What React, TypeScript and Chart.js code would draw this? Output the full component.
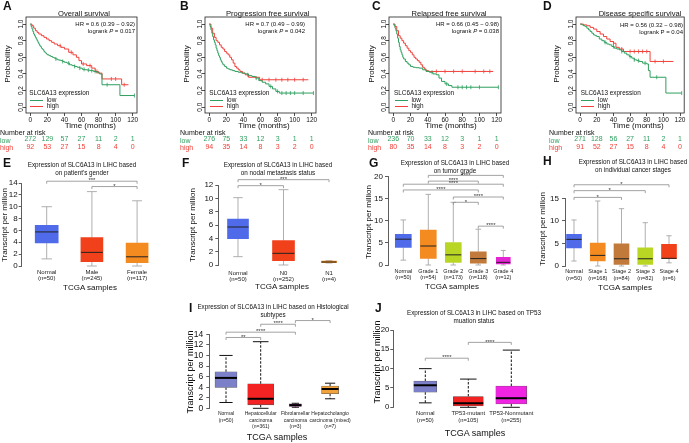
import React, { useEffect, useRef } from "react";
import { Chart, registerables } from "chart.js";

Chart.register(...registerables);

const W = 689;
const H = 443;
const FONT = '"Liberation Sans", Arial, Helvetica, sans-serif';
Chart.defaults.font.family = FONT;
Chart.defaults.color = "#222";

const KM_GREEN = "#2E9F5F";
const KM_RED = "#F2403A";

// ---------------- Kaplan-Meier data ----------------
const kmTimeTicks = [0, 20, 40, 60, 80, 100, 120];
const kmProbTicks = [0, 0.2, 0.4, 0.6, 0.8, 1.0];

// A: Overall survival
const osLowT = [0, 1, 2, 3, 4, 5, 6, 7, 8, 9, 10, 11, 12, 13, 14, 15, 16, 17, 18, 19, 20, 22, 24, 26, 28, 30, 32, 34, 36, 38, 40, 43, 46, 49, 52, 55, 58, 61, 64, 67, 70, 74, 78, 81, 84, 105, 122];
const osLowS = [1, 0.97, 0.94, 0.91, 0.88, 0.86, 0.84, 0.82, 0.8, 0.78, 0.76, 0.74, 0.73, 0.71, 0.7, 0.69, 0.67, 0.66, 0.65, 0.64, 0.63, 0.62, 0.61, 0.6, 0.59, 0.58, 0.57, 0.565, 0.56, 0.55, 0.54, 0.53, 0.51, 0.5, 0.49, 0.48, 0.47, 0.455, 0.45, 0.445, 0.44, 0.43, 0.415, 0.4, 0.27, 0.14, 0.14];
const osHighT = [0, 2, 4, 6, 8, 10, 13, 16, 19, 22, 25, 28, 32, 36, 40, 45, 50, 54, 57, 60, 66, 72, 76, 80, 84, 107, 115];
const osHighS = [1, 0.98, 0.95, 0.92, 0.9, 0.88, 0.86, 0.84, 0.82, 0.8, 0.78, 0.76, 0.74, 0.72, 0.7, 0.66, 0.63, 0.6, 0.56, 0.52, 0.5, 0.47, 0.43, 0.41, 0.34, 0.27, 0.27];
const osLowCens = [30, 38, 45, 52, 58, 63, 68, 72, 76, 90, 122];
const osHighCens = [35, 48, 62, 70, 78, 95, 100, 110];
const osRiskLow = [272, 129, 57, 27, 11, 2, 1];
const osRiskHigh = [92, 53, 27, 15, 8, 4, 0];

// B: Progression free survival
const pfsLowT = [0, 1, 2, 3, 4, 5, 6, 7, 8, 9, 10, 11, 12, 13, 14, 15, 16, 18, 20, 22, 24, 27, 30, 34, 38, 42, 46, 50, 54, 58, 62, 66, 70, 74, 78, 82, 122];
const pfsLowS = [1, 0.97, 0.93, 0.89, 0.85, 0.81, 0.78, 0.75, 0.71, 0.68, 0.65, 0.62, 0.6, 0.57, 0.55, 0.53, 0.51, 0.49, 0.47, 0.46, 0.45, 0.44, 0.43, 0.42, 0.41, 0.4, 0.38, 0.37, 0.35, 0.32, 0.3, 0.28, 0.25, 0.22, 0.19, 0.17, 0.17];
const pfsHighT = [0, 2, 4, 6, 8, 10, 12, 14, 16, 18, 20, 22, 24, 26, 28, 30, 32, 34, 36, 39, 42, 46, 59, 116];
const pfsHighS = [1, 0.95, 0.89, 0.84, 0.8, 0.78, 0.75, 0.72, 0.7, 0.67, 0.65, 0.63, 0.6, 0.57, 0.53, 0.49, 0.47, 0.45, 0.43, 0.41, 0.39, 0.36, 0.33, 0.33];
const pfsLowCens = [55, 72, 80, 85, 90, 95, 100, 110, 122];
const pfsHighCens = [45, 62, 70, 78, 85, 92, 100, 110];
const pfsRiskLow = [276, 75, 33, 12, 3, 1, 1];
const pfsRiskHigh = [94, 35, 14, 8, 3, 2, 0];

// C: Relapsed free survival
const rfsLowT = [0, 1, 2, 3, 4, 5, 6, 7, 8, 9, 10, 11, 12, 14, 16, 18, 20, 23, 26, 30, 34, 38, 42, 46, 50, 53, 56, 60, 64, 68, 122];
const rfsLowS = [1, 0.98, 0.95, 0.92, 0.88, 0.83, 0.78, 0.73, 0.69, 0.66, 0.63, 0.6, 0.58, 0.55, 0.53, 0.51, 0.49, 0.48, 0.475, 0.47, 0.45, 0.43, 0.42, 0.4, 0.39, 0.35, 0.31, 0.28, 0.26, 0.24, 0.24];
const rfsHighT = [0, 2, 4, 6, 8, 10, 12, 14, 16, 18, 20, 22, 24, 26, 28, 30, 32, 34, 36, 38, 41, 116];
const rfsHighS = [1, 0.97, 0.92, 0.86, 0.83, 0.8, 0.77, 0.74, 0.71, 0.68, 0.66, 0.63, 0.6, 0.58, 0.56, 0.54, 0.51, 0.48, 0.46, 0.44, 0.43, 0.43];
const rfsLowCens = [45, 62, 75, 80, 85, 90, 100, 122];
const rfsHighCens = [50, 60, 70, 80, 95, 105, 112];
const rfsRiskLow = [236, 70, 33, 12, 3, 1, 1];
const rfsRiskHigh = [80, 35, 14, 8, 3, 2, 0];

// D: Disease specific survival
const dssLowT = [0, 2, 4, 6, 8, 10, 12, 14, 16, 18, 20, 23, 26, 29, 32, 35, 38, 41, 44, 47, 50, 53, 56, 59, 62, 65, 68, 71, 75, 80, 82, 84, 103, 122];
const dssLowS = [1, 0.99, 0.98, 0.97, 0.95, 0.93, 0.91, 0.89, 0.87, 0.86, 0.85, 0.82, 0.8, 0.78, 0.76, 0.75, 0.73, 0.71, 0.7, 0.69, 0.67, 0.65, 0.63, 0.61, 0.59, 0.57, 0.56, 0.55, 0.53, 0.52, 0.44, 0.36, 0.17, 0.17];
const dssHighT = [0, 4, 8, 12, 16, 20, 24, 28, 32, 36, 40, 43, 47, 52, 84, 112];
const dssHighS = [1, 0.99, 0.98, 0.96, 0.94, 0.91, 0.88, 0.85, 0.82, 0.79, 0.77, 0.72, 0.7, 0.67, 0.55, 0.55];
const dssLowCens = [30, 40, 50, 60, 65, 70, 78, 92, 122];
const dssHighCens = [40, 50, 60, 65, 70, 75, 80, 90, 100];
const dssRiskLow = [271, 128, 56, 27, 11, 2, 1];
const dssRiskHigh = [91, 52, 27, 15, 8, 4, 0];

// ---------------- Box plot data ----------------
// E: gender
const eCats = [["Normal", "(n=50)"], ["Male", "(n=245)"], ["Female", "(n=117)"]];
const eMin = [1.2, 0, 0];
const eQ1 = [3.9, 0.75, 0.55];
const eMed = [5.75, 2.3, 1.55];
const eQ3 = [6.85, 4.8, 3.85];
const eMax = [10, 12.55, 11];
const eTicks = [0, 2, 4, 6, 8, 10, 12, 14];
const eSig: [number, number, number, string][] = [[0, 2, 14.3, "***"], [1, 2, 13.4, "*"]];

// F: nodal metastasis
const fCats = [["Normal", "(n=50)"], ["N0", "(n=252)"], ["N1", "(n=4)"]];
const fMin = [1.25, 0, 0.3];
const fQ1 = [3.95, 0.65, 0.36];
const fMed = [5.7, 1.75, 0.45];
const fQ3 = [6.9, 3.65, 0.6];
const fMax = [10.1, 11.3, 0.66];
const fTicks = [0, 2, 4, 6, 8, 10, 12];
const fSig: [number, number, number, string][] = [[0, 2, 12.8, "***"], [0, 1, 11.9, "*"]];

// G: tumor grade
const gCats = [["Normal", "(n=50)"], ["Grade 1", "(n=54)"], ["Grade 2", "(n=173)"], ["Grade 3", "(n=118)"], ["Grade 4", "(n=12)"]];
const gMin = [1.1, 0, 0, 0, 0];
const gQ1 = [4.0, 1.5, 0.6, 0.4, 0.25];
const gMed = [5.85, 4.3, 2.3, 1.45, 0.6];
const gQ3 = [6.95, 7.9, 5.1, 3.0, 1.75];
const gMax = [10.2, 16.0, 14.2, 8.1, 3.3];
const gTicks = [0, 5, 10, 15, 20];
const gSig: [number, number, number, string][] = [
  [1, 4, 20.3, "****"], [1, 3, 19.0, "****"], [0, 4, 18.3, "****"], [0, 3, 17.0, "****"],
  [2, 4, 15.4, "****"], [2, 3, 14.2, "*"], [3, 4, 8.8, "****"],
];

// H: cancer stage
const hCats = [["Normal", "(n=50)"], ["Stage 1", "(n=168)"], ["Stage 2", "(n=84)"], ["Stage 3", "(n=82)"], ["Stage 4", "(n=6)"]];
const hMin = [1.1, 0, 0, 0, 0.7];
const hQ1 = [4.0, 1.1, 0.35, 0.35, 1.6];
const hMed = [5.9, 2.35, 1.6, 1.6, 1.7];
const hQ3 = [7.0, 5.1, 4.9, 4.0, 4.8];
const hMax = [10.2, 14.4, 12.7, 9.6, 6.7];
const hTicks = [0, 5, 10, 15];
const hSig: [number, number, number, string][] = [[0, 4, 18.0, "*"], [0, 3, 16.7, "*"], [0, 2, 15.2, "*"]];

// I: histological subtypes
const iCats = [["Normal", "(n=50)"], ["Hepatocellular", "carcinoma", "(n=361)"], ["Fibrolamellar", "carcinoma", "(n=3)"], ["Hepatocholangio", "carcinoma (mixed)", "(n=7)"]];
const iMin = [1.1, 0, 0.2, 1.8];
const iQ1 = [3.95, 0.65, 0.35, 2.75];
const iMed = [5.75, 1.8, 0.6, 3.65];
const iQ3 = [6.9, 4.65, 0.85, 4.2];
const iMax = [10, 12.6, 0.95, 4.75];
const iTicks = [0, 2, 4, 6, 8, 10, 12, 14];
const iSig: [number, number, number, string][] = [[2, 3, 16.6, "*"], [1, 2, 15.9, "****"], [0, 2, 14.4, "****"], [0, 1, 13.4, "**"]];

// J: TP53 mutation status
const jCats = [["Normal", "(n=50)"], ["TP53-mutant", "(n=105)"], ["TP53-Nonmutant", "(n=255)"]];
const jMin = [1.15, 0, 0];
const jQ1 = [3.9, 0.35, 0.85];
const jMed = [5.7, 1.05, 2.35];
const jQ3 = [6.8, 2.8, 5.5];
const jMax = [10, 7.3, 14.8];
const jTicks = [0, 5, 10, 15, 20];
const jSig: [number, number, number, string][] = [[1, 2, 16.8, "****"], [0, 1, 12.7, "****"]];

// ---------------- colours ----------------
const C_BLUE = "#4F6BEA";
const C_REDOR = "#F0411B";
const C_ORANGE = "#F38B21";
const C_YG = "#BAD624";
const C_BROWN = "#C27A3A";
const C_MAG = "#E426D2";
const C_SLATE = "#7B80C8";
const C_RED = "#F42323";
const C_MAG2 = "#F024E2";
const C_LORANGE = "#F2A23A";

// ---------------- helpers ----------------
function steps(T: number[], S: number[]) {
  return T.map((t, i) => ({ x: t, y: S[i] }));
}
function survAt(c: number, T: number[], S: number[]) {
  let v = S[0];
  for (let i = 0; i < T.length; i++) if (T[i] <= c) v = S[i];
  return v;
}
function censor(C: number[], T: number[], S: number[]) {
  return C.map((c) => ({ x: c, y: survAt(c, T, S) }));
}

const KM_TOP = 17;
const KM_BOTTOM = 113;

const framePlugin = {
  id: "frame",
  afterDraw(chart: any) {
    const { ctx, chartArea: a } = chart;
    ctx.save();
    ctx.strokeStyle = "#222";
    ctx.lineWidth = 0.8;
    ctx.strokeRect(a.left, a.top, a.right - a.left, a.bottom - a.top);
    ctx.restore();
  },
};

function riskPlugin(low: number[], high: number[]) {
  return {
    id: "risk",
    afterDraw(chart: any) {
      const ctx = chart.ctx;
      const xs = chart.scales.x;
      ctx.save();
      ctx.font = `7px ${FONT}`;
      ctx.textAlign = "center";
      ctx.textBaseline = "middle";
      kmTimeTicks.forEach((t, i) => {
        const x = xs.getPixelForValue(t);
        ctx.fillStyle = KM_GREEN;
        ctx.fillText(String(low[i]), x, 139.5);
        ctx.fillStyle = KM_RED;
        ctx.fillText(String(high[i]), x, 147);
      });
      ctx.restore();
    },
  };
}

type KM = any;

const kmPanels: KM[] = [
  { letter: "A", letterX: 3, title: "Overall survival", titleX: 84, hr: "HR = 0.6 (0.39 \u2212 0.92)", pVal: "0.017", pItalic: true, hrRight: 135, hrY: 24, boxL: 26, boxR: 137, legX: 29.3, probX: 8.3, timeX: 90.3, narX: 0,
    lowT: osLowT, lowS: osLowS, highT: osHighT, highS: osHighS, lowC: osLowCens, highC: osHighCens, riskLow: osRiskLow, riskHigh: osRiskHigh },
  { letter: "B", letterX: 180, title: "Progression free survival", titleX: 267.7, hr: "HR = 0.7 (0.49 \u2212 0.99)", pVal: "0.042", pItalic: true, hrRight: 305, hrY: 24, boxL: 205, boxR: 316, legX: 209.3, probX: 186.7, timeX: 264, narX: 180,
    lowT: pfsLowT, lowS: pfsLowS, highT: pfsHighT, highS: pfsHighS, lowC: pfsLowCens, highC: pfsHighCens, riskLow: pfsRiskLow, riskHigh: pfsRiskHigh },
  { letter: "C", letterX: 372, title: "Relapsed free survival", titleX: 449, hr: "HR = 0.66 (0.45 \u2212 0.98)", pVal: "0.038", pItalic: true, hrRight: 499, hrY: 24, boxL: 389, boxR: 501, legX: 394, probX: 371.7, timeX: 451, narX: 368,
    lowT: rfsLowT, lowS: rfsLowS, highT: rfsHighT, highS: rfsHighS, lowC: rfsLowCens, highC: rfsHighCens, riskLow: rfsRiskLow, riskHigh: rfsRiskHigh },
  { letter: "D", letterX: 543, title: "Disease specific survival", titleX: 640, hr: "HR = 0.56 (0.32 \u2212 0.98)", pVal: "0.04", pItalic: false, hrRight: 683, hrY: 25, boxL: 576, boxR: 688, legX: 580.7, probX: 556.7, timeX: 638, narX: 549,
    lowT: dssLowT, lowS: dssLowS, highT: dssHighT, highS: dssHighS, lowC: dssLowCens, highC: dssHighCens, riskLow: dssRiskLow, riskHigh: dssRiskHigh },
];

function kmConfig(p: KM) {
  const yW = 12;
  const xH = 12;
  return {
    type: "line",
    data: {
      datasets: [
        { type: "line", data: steps(p.lowT, p.lowS), borderColor: KM_GREEN, borderWidth: 1, stepped: true, pointRadius: 0, fill: false },
        { type: "line", data: steps(p.highT, p.highS), borderColor: KM_RED, borderWidth: 1, stepped: true, pointRadius: 0, fill: false },
        { type: "scatter", data: censor(p.lowC, p.lowT, p.lowS), pointStyle: "line", rotation: 90, pointRadius: 2, borderColor: KM_GREEN, borderWidth: 0.8 },
        { type: "scatter", data: censor(p.highC, p.highT, p.highS), pointStyle: "line", rotation: 90, pointRadius: 2, borderColor: KM_RED, borderWidth: 0.8 },
      ],
    },
    options: {
      responsive: false,
      animation: false,
      devicePixelRatio: 1,
      events: [],
      layout: { padding: { left: p.boxL - yW, top: KM_TOP, right: W - p.boxR, bottom: H - KM_BOTTOM - xH } },
      plugins: { legend: { display: false }, tooltip: { enabled: false } },
      scales: {
        x: {
          type: "linear", min: -5, max: 125, offset: false,
          afterBuildTicks: (s: any) => { s.ticks = kmTimeTicks.map((v) => ({ value: v })); },
          afterFit: (s: any) => { s.height = xH; s.paddingLeft = 0; s.paddingRight = 0; },
          ticks: { autoSkip: false, maxRotation: 0, minRotation: 0, padding: 0, font: { size: 6.5 }, color: "#111" },
          grid: { drawOnChartArea: false, drawTicks: true, tickLength: 3, color: "#222", lineWidth: 0.8 },
          border: { display: false },
        },
        y: {
          type: "linear", min: -0.07, max: 1.085,
          afterBuildTicks: (s: any) => { s.ticks = kmProbTicks.map((v) => ({ value: v })); },
          afterFit: (s: any) => { s.width = yW; s.paddingTop = 0; s.paddingBottom = 0; },
          ticks: { autoSkip: false, minRotation: 90, maxRotation: 90, crossAlign: "center", padding: -3, font: { size: 6.5 }, color: "#111", callback: (v: any) => Number(v).toFixed(1) },
          grid: { drawOnChartArea: false, drawTicks: true, tickLength: 3, color: "#222", lineWidth: 0.8 },
          border: { display: false },
        },
      },
    },
    plugins: [framePlugin, riskPlugin(p.riskLow, p.riskHigh)],
  };
}

type BoxP = any;

const boxPanels: BoxP[] = [
  { id: "E", letterX: 3, letterY: 162.5, title: ["Expression of SLC6A13 in LIHC based", "on patient's gender"], titleX: 82, titleY: 165, yTitleX: 5, yTitleY: 225, xTitleX: 90, xTitleY: 288, axTitle: 8,
    axisX: 21.7, c0: 46.7, step: 45.2, top: 183, bottom: 266, ymax: 14, yTicks: eTicks, yFont: 8, tickPad: 1, xFont: 6, xLH: 1.12, xPad: 2.5,
    cats: eCats, lo: eMin, q1: eQ1, med: eMed, q3: eQ3, hi: eMax, sig: eSig, colors: [C_BLUE, C_REDOR, C_ORANGE], widths: [23, 22, 22], capFrac: 0.45,
    whisker: "#a6a6a6", whiskerW: 0.9, dash: [], medColor: "#222", medW: 1, edge: null, edgeW: 0 },
  { id: "F", letterX: 182, letterY: 162.5, title: ["Expression of SLC6A13 in LIHC based", "on nodal metastasis status"], titleX: 278, titleY: 165, yTitleX: 193, yTitleY: 225, xTitleX: 282, xTitleY: 287, axTitle: 8,
    axisX: 218.3, c0: 238, step: 45.5, top: 185, bottom: 265, ymax: 12, yTicks: fTicks, yFont: 8, tickPad: 2, xFont: 6, xLH: 1.12, xPad: 4.5,
    cats: fCats, lo: fMin, q1: fQ1, med: fMed, q3: fQ3, hi: fMax, sig: fSig, colors: [C_BLUE, C_REDOR, C_ORANGE], widths: [21, 22, 15], capFrac: 0.45,
    whisker: "#a6a6a6", whiskerW: 0.9, dash: [], medColor: "#222", medW: 1, edge: null, edgeW: 0 },
  { id: "G", letterX: 369, letterY: 162.5, title: ["Expression of SLC6A13 in LIHC based", "on tumor grade"], titleX: 455, titleY: 163, yTitleX: 369, yTitleY: 222, xTitleX: 452, xTitleY: 287, axTitle: 8,
    axisX: 388, c0: 403.3, step: 25, top: 176.7, bottom: 265, ymax: 20, yTicks: gTicks, yFont: 8, tickPad: 2, xFont: 5.5, xLH: 1.2, xPad: 3,
    cats: gCats, lo: gMin, q1: gQ1, med: gMed, q3: gQ3, hi: gMax, sig: gSig, colors: [C_BLUE, C_ORANGE, C_YG, C_BROWN, C_MAG], widths: [16, 16, 16, 16, 14], capFrac: 0.35,
    whisker: "#a6a6a6", whiskerW: 0.9, dash: [], medColor: "#222", medW: 1, edge: null, edgeW: 0 },
  { id: "H", letterX: 543, letterY: 161, title: ["Expression of SLC6A13 in LIHC based", "on individual cancer stages"], titleX: 633, titleY: 162, yTitleX: 543, yTitleY: 229, xTitleX: 625, xTitleY: 288, axTitle: 8,
    axisX: 565, c0: 574, step: 23.75, top: 198.3, bottom: 266, ymax: 15, yTicks: hTicks, yFont: 8, tickPad: 3, xFont: 5.5, xLH: 1.2, xPad: 2.5,
    cats: hCats, lo: hMin, q1: hQ1, med: hMed, q3: hQ3, hi: hMax, sig: hSig, colors: [C_BLUE, C_ORANGE, C_BROWN, C_YG, C_REDOR], widths: [15, 15, 15, 15, 15], capFrac: 0.35,
    whisker: "#a6a6a6", whiskerW: 0.9, dash: [], medColor: "#222", medW: 1, edge: null, edgeW: 0 },
  { id: "I", letterX: 189, letterY: 307.5, title: ["Expression of SLC6A13 in LIHC based on Histological", "subtypes"], titleX: 273, titleY: 307, yTitleX: 190, yTitleY: 372, xTitleX: 277, xTitleY: 437, axTitle: 9,
    axisX: 209.3, c0: 226, step: 34.7, top: 334.3, bottom: 408.3, ymax: 14, yTicks: iTicks, yFont: 8.5, tickPad: 3, xFont: 5.0, xLH: 1.34, xPad: 2,
    cats: iCats, lo: iMin, q1: iQ1, med: iMed, q3: iQ3, hi: iMax, sig: iSig, colors: [C_SLATE, C_RED, C_MAG, C_LORANGE], widths: [22, 26, 12, 17], capFrac: 0.6,
    whisker: "#111", whiskerW: 1, dash: [2.5, 1.5], medColor: "#000", medW: 2, edge: "#555", edgeW: 0.6 },
  { id: "J", letterX: 375, letterY: 308, title: ["Expression of SLC6A13 in LIHC based on TP53", "muation status"], titleX: 474, titleY: 313, yTitleX: 377, yTitleY: 362, xTitleX: 475, xTitleY: 433, axTitle: 9,
    axisX: 393.3, c0: 425.3, step: 43, top: 330, bottom: 407.3, ymax: 20, yTicks: jTicks, yFont: 7.8, tickPad: 1, xFont: 5.8, xLH: 1.15, xPad: 3,
    cats: jCats, lo: jMin, q1: jQ1, med: jMed, q3: jQ3, hi: jMax, sig: jSig, colors: [C_SLATE, C_RED, C_MAG2], widths: [23, 30, 31], capFrac: 0.55,
    whisker: "#111", whiskerW: 1, dash: [2.5, 1.5], medColor: "#000", medW: 2, edge: "#555", edgeW: 0.6 },
];

function boxPlugin(p: BoxP) {
  return {
    id: "boxExtras",
    beforeDatasetsDraw(chart: any) {
      const { ctx } = chart;
      const xs = chart.scales.x;
      const ys = chart.scales.y;
      ctx.save();
      ctx.strokeStyle = p.whisker;
      ctx.lineWidth = p.whiskerW;
      p.q1.forEach((_: number, i: number) => {
        const x = xs.getPixelForValue(i);
        ctx.setLineDash(p.dash);
        ctx.beginPath();
        ctx.moveTo(x, ys.getPixelForValue(p.q3[i]));
        ctx.lineTo(x, ys.getPixelForValue(p.hi[i]));
        ctx.moveTo(x, ys.getPixelForValue(p.q1[i]));
        ctx.lineTo(x, ys.getPixelForValue(p.lo[i]));
        ctx.stroke();
        ctx.setLineDash([]);
        const c = (p.widths[i] * p.capFrac) / 2;
        ctx.beginPath();
        const yh = ys.getPixelForValue(p.hi[i]);
        const yl = ys.getPixelForValue(p.lo[i]);
        ctx.moveTo(x - c, yh);
        ctx.lineTo(x + c, yh);
        ctx.moveTo(x - c, yl);
        ctx.lineTo(x + c, yl);
        ctx.stroke();
      });
      ctx.restore();
    },
    afterDatasetsDraw(chart: any) {
      const { ctx } = chart;
      const xs = chart.scales.x;
      const ys = chart.scales.y;
      ctx.save();
      ctx.strokeStyle = p.medColor;
      ctx.lineWidth = p.medW;
      p.med.forEach((m: number, i: number) => {
        const x = xs.getPixelForValue(i);
        const y = ys.getPixelForValue(m);
        const hw = p.widths[i] / 2;
        ctx.beginPath();
        ctx.moveTo(x - hw, y);
        ctx.lineTo(x + hw, y);
        ctx.stroke();
      });
      ctx.restore();
    },
    afterDraw(chart: any) {
      const { ctx } = chart;
      const xs = chart.scales.x;
      const ys = chart.scales.y;
      ctx.save();
      ctx.strokeStyle = "#8c8c8c";
      ctx.lineWidth = 0.8;
      ctx.fillStyle = "#333";
      ctx.font = `6px ${FONT}`;
      ctx.textAlign = "center";
      ctx.textBaseline = "alphabetic";
      p.sig.forEach(([a, b, v, label]: [number, number, number, string]) => {
        const xa = xs.getPixelForValue(a);
        const xb = xs.getPixelForValue(b);
        const y = ys.getPixelForValue(v);
        ctx.beginPath();
        ctx.moveTo(xa, y + 2.5);
        ctx.lineTo(xa, y);
        ctx.lineTo(xb, y);
        ctx.lineTo(xb, y + 2.5);
        ctx.stroke();
        ctx.fillText(label, (xa + xb) / 2, y + 1.2);
      });
      ctx.restore();
    },
  };
}

function boxConfig(p: BoxP) {
  const n = p.cats.length;
  const yW = 20;
  const xH = 30;
  const xmin = (p.axisX - p.c0) / p.step;
  const xmax = n - 0.5;
  const R = p.c0 + p.step * xmax;
  const datasets = p.q1.map((_: number, i: number) => ({
    type: "bar",
    data: [{ x: i, y: [p.q1[i], p.q3[i]] }],
    backgroundColor: p.colors[i],
    borderColor: p.edge || p.colors[i],
    borderWidth: p.edgeW,
    borderSkipped: false,
    barThickness: p.widths[i],
    grouped: false,
  }));
  return {
    type: "bar",
    data: { datasets },
    options: {
      responsive: false,
      animation: false,
      devicePixelRatio: 1,
      events: [],
      layout: { padding: { left: p.axisX - yW, top: p.top, right: W - R, bottom: H - p.bottom - xH } },
      plugins: { legend: { display: false }, tooltip: { enabled: false } },
      scales: {
        x: {
          type: "linear", min: xmin, max: xmax, offset: false,
          afterBuildTicks: (s: any) => { s.ticks = p.cats.map((_: any, i: number) => ({ value: i })); },
          afterFit: (s: any) => { s.height = xH; s.paddingLeft = 0; s.paddingRight = 0; },
          ticks: { autoSkip: false, maxRotation: 0, minRotation: 0, padding: p.xPad, font: { size: p.xFont, lineHeight: p.xLH }, color: "#222",
            callback: (v: any) => p.cats[Math.round(Number(v))] },
          grid: { display: false, drawTicks: false, offset: false },
          border: { display: false },
        },
        y: {
          type: "linear", min: 0, max: p.ymax,
          afterBuildTicks: (s: any) => { s.ticks = p.yTicks.map((v: number) => ({ value: v })); },
          afterFit: (s: any) => { s.width = yW; s.paddingTop = 0; s.paddingBottom = 0; },
          ticks: { autoSkip: false, padding: p.tickPad, font: { size: p.yFont }, color: "#111", callback: (v: any) => String(v) },
          grid: { drawOnChartArea: false, drawTicks: true, tickLength: 3, color: "#333", lineWidth: 0.8 },
          border: { display: true, color: "#333", width: 0.8 },
        },
      },
    },
    plugins: [boxPlugin(p)],
  };
}

function ChartCanvas({ make }: { make: () => any }) {
  const ref = useRef<HTMLCanvasElement | null>(null);
  useEffect(() => {
    if (!ref.current) return;
    const chart = new Chart(ref.current, make());
    return () => chart.destroy();
  }, []);
  return <canvas ref={ref} width={W} height={H} style={{ position: "absolute", left: 0, top: 0, width: W, height: H }} />;
}

function Txt(props: any) {
  const { x, y, size, anchor = "start", color = "#111", bold = false, rot = false, children } = props;
  const tx = anchor === "middle" ? "-50%" : anchor === "end" ? "-100%" : "0";
  const transform = rot ? "translate(-50%,-50%) rotate(-90deg)" : `translate(${tx},-50%)`;
  return (
    <div style={{ position: "absolute", left: x, top: y, transform, fontSize: size, lineHeight: 1, whiteSpace: "nowrap", color, fontWeight: bold ? 700 : 400, fontFamily: FONT }}>
      {children}
    </div>
  );
}

function KMTexts({ p }: { p: KM }) {
  return (
    <>
      <Txt x={p.letterX} y={6} size={12} bold>{p.letter}</Txt>
      <Txt x={p.titleX} y={13.5} size={7.6} anchor="middle">{p.title}</Txt>
      <Txt x={p.hrRight} y={p.hrY} size={6} anchor="end">{p.hr}</Txt>
      <Txt x={p.hrRight} y={p.hrY + 7} size={6} anchor="end">logrank {p.pItalic ? <i>P</i> : "P"} = {p.pVal}</Txt>
      <Txt x={p.legX} y={92.7} size={6.4}>SLC6A13 expression</Txt>
      <div style={{ position: "absolute", left: p.legX + 0.7, top: 99.5, width: 13, height: 0, borderTop: `1px solid ${KM_GREEN}` }} />
      <div style={{ position: "absolute", left: p.legX + 0.7, top: 105.8, width: 13, height: 0, borderTop: `1px solid ${KM_RED}` }} />
      <Txt x={p.legX + 17.4} y={99.8} size={6.4}>low</Txt>
      <Txt x={p.legX + 17.4} y={106.2} size={6.4}>high</Txt>
      <Txt x={p.probX} y={63.5} size={8} rot>Probability</Txt>
      <Txt x={p.timeX} y={126} size={8} anchor="middle">Time (months)</Txt>
      <Txt x={p.narX} y={132} size={7}>Number at risk</Txt>
      <Txt x={p.narX} y={139.5} size={7} color={KM_GREEN}>low</Txt>
      <Txt x={p.narX} y={147} size={7} color={KM_RED}>high</Txt>
    </>
  );
}

function BoxTexts({ p }: { p: BoxP }) {
  return (
    <>
      <Txt x={p.letterX} y={p.letterY} size={12} bold>{p.id}</Txt>
      {p.title.map((t: string, k: number) => (
        <Txt key={k} x={p.titleX} y={p.titleY + k * 7.5} size={6.3} anchor="middle">{t}</Txt>
      ))}
      <Txt x={p.yTitleX} y={p.yTitleY} size={p.axTitle} rot>Transcript per million</Txt>
      <Txt x={p.xTitleX} y={p.xTitleY} size={p.axTitle} anchor="middle">TCGA samples</Txt>
    </>
  );
}

export default function App() {
  return (
    <div style={{ position: "fixed", left: 0, top: 0, width: W, height: H, background: "#fff", overflow: "hidden", fontFamily: FONT }}>
      {kmPanels.map((p) => (
        <ChartCanvas key={"km" + p.letter} make={() => kmConfig(p)} />
      ))}
      {boxPanels.map((p) => (
        <ChartCanvas key={"bx" + p.id} make={() => boxConfig(p)} />
      ))}
      {kmPanels.map((p) => (
        <KMTexts key={"kt" + p.letter} p={p} />
      ))}
      {boxPanels.map((p) => (
        <BoxTexts key={"bt" + p.id} p={p} />
      ))}
    </div>
  );
}
